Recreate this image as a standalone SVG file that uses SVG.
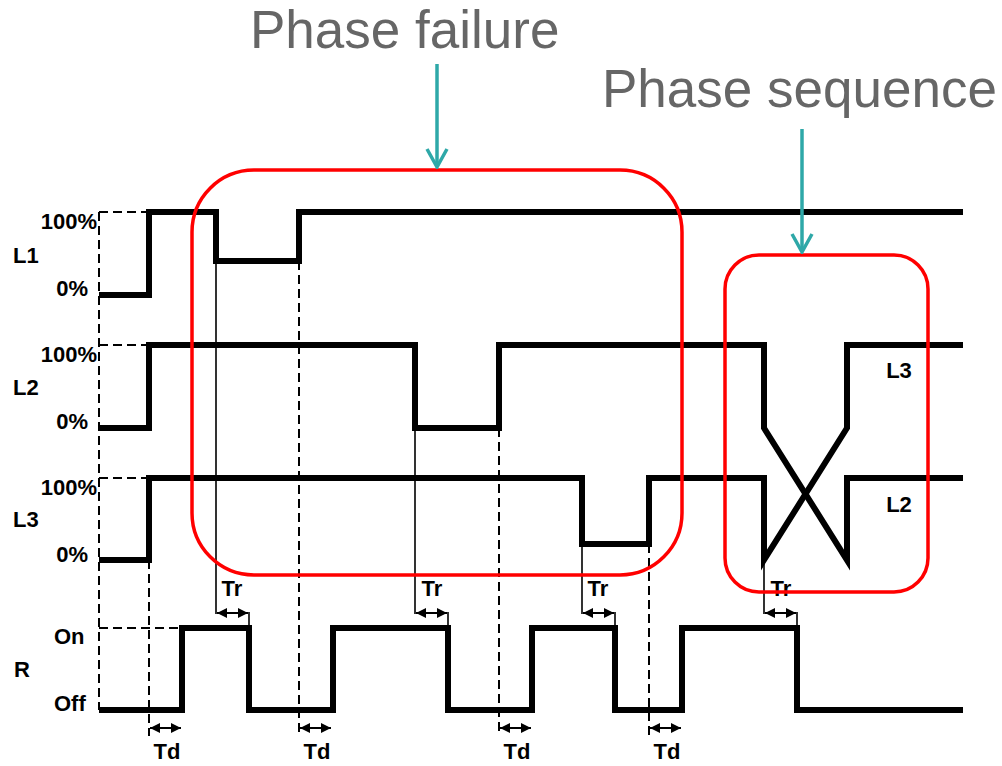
<svg xmlns="http://www.w3.org/2000/svg" width="1002" height="766" viewBox="0 0 1002 766">
<style>
.wave{fill:none;stroke:#000;stroke-width:6;stroke-linejoin:miter;stroke-linecap:butt}
.dash{fill:none;stroke:#000;stroke-width:2;stroke-dasharray:9 5}
.thin{fill:none;stroke:#000;stroke-width:1.6}
.dim{fill:none;stroke:#000;stroke-width:2;marker-start:url(#ah);marker-end:url(#ah)}
.lbl{font-family:"Liberation Sans",Arial,sans-serif;font-weight:bold;font-size:22px;fill:#000}
.title{font-family:"Liberation Sans",Arial,sans-serif;font-size:53px;fill:#666}
.box{fill:none;stroke:#ff0000;stroke-width:3.5}
.call{fill:none;stroke:#2ea8a8;stroke-width:3.5}
</style>
<defs>
<marker id="ah" viewBox="0 0 10 10" refX="10" refY="5" markerWidth="5" markerHeight="5" orient="auto-start-reverse" markerUnits="strokeWidth">
<path d="M0,0 L10,5 L0,10 Z" fill="#000"/>
</marker>
<marker id="chev" viewBox="0 0 22 24" refX="20" refY="12" markerWidth="22" markerHeight="24" orient="auto" markerUnits="userSpaceOnUse">
<path d="M2,2 L20,12 L2,22" fill="none" stroke="#2ea8a8" stroke-width="3.5"/>
</marker>
</defs>

<g id="titles">
<text class="title" x="250" y="48">Phase failure</text>
<text class="title" x="602" y="107">Phase sequence</text>
</g>

<g id="axis-labels">
<text class="lbl" x="13" y="263">L1</text>
<text class="lbl" x="13" y="395">L2</text>
<text class="lbl" x="13" y="527">L3</text>
<text class="lbl" x="14" y="677">R</text>
<text class="lbl" x="97" y="229" text-anchor="end">100%</text>
<text class="lbl" x="88" y="296" text-anchor="end">0%</text>
<text class="lbl" x="97" y="362" text-anchor="end">100%</text>
<text class="lbl" x="88" y="429" text-anchor="end">0%</text>
<text class="lbl" x="97" y="495" text-anchor="end">100%</text>
<text class="lbl" x="88" y="562" text-anchor="end">0%</text>
<text class="lbl" x="54" y="644">On</text>
<text class="lbl" x="54" y="711">Off</text>
<text class="lbl" x="899" y="378" text-anchor="middle">L3</text>
<text class="lbl" x="899" y="512" text-anchor="middle">L2</text>
</g>

<g id="guides">
<path class="dash" d="M99,212 V710"/>
<path class="dash" d="M99,212 H149 M99,345 H149 M99,478 H149 M99,628 H182"/>
<path class="dash" d="M149,560 V736 M299,261 V736 M499,428 V736 M649,544 V736"/>
<path class="thin" d="M216,261 V614 M249,612 V628 M415,428 V614 M448,612 V628 M582,544 V614 M615,612 V628 M764,560 V614 M797,612 V628"/>
</g>

<g id="waveforms">
<path id="L1" class="wave" d="M99,295 H149 V212 H216 V261 H299 V212 H963"/>
<path id="L2" class="wave" d="M99,428 H149 V345 H415 V428 H499 V345 H764 V428 L847,560 V478 H963"/>
<path id="L3" class="wave" d="M99,560 H149 V478 H582 V544 H649 V478 H764 V560 L847,428 V345 H963"/>
<path id="R" class="wave" d="M99,710 H182 V628 H249 V710 H333 V628 H448 V710 H532 V628 H615 V710 H682 V628 H797 V710 H963"/>
</g>

<g id="timing">
<path class="dim" d="M217,613 H248"/>
<path class="dim" d="M416,613 H447"/>
<path class="dim" d="M583,613 H614"/>
<path class="dim" d="M765,613 H796"/>
<path class="dim" d="M150,728 H181"/>
<path class="dim" d="M300,728 H331"/>
<path class="dim" d="M500,728 H531"/>
<path class="dim" d="M650,728 H681"/>
<text class="lbl" x="232" y="596" text-anchor="middle">Tr</text>
<text class="lbl" x="432" y="596" text-anchor="middle">Tr</text>
<text class="lbl" x="598" y="596" text-anchor="middle">Tr</text>
<text class="lbl" x="781" y="596" text-anchor="middle">Tr</text>
<text class="lbl" x="167" y="759" text-anchor="middle">Td</text>
<text class="lbl" x="317" y="759" text-anchor="middle">Td</text>
<text class="lbl" x="517" y="759" text-anchor="middle">Td</text>
<text class="lbl" x="667" y="759" text-anchor="middle">Td</text>
</g>

<g id="phase-failure-box">
<rect class="box" x="192" y="170" width="490" height="405" rx="62" ry="62"/>
</g>
<g id="phase-sequence-box">
<rect class="box" x="725" y="255" width="203" height="337" rx="34" ry="34"/>
</g>

<g id="connectors">
<path class="call" d="M437,64 V167" marker-end="url(#chev)"/>
<path class="call" d="M802,129 V252" marker-end="url(#chev)"/>
</g>
</svg>
